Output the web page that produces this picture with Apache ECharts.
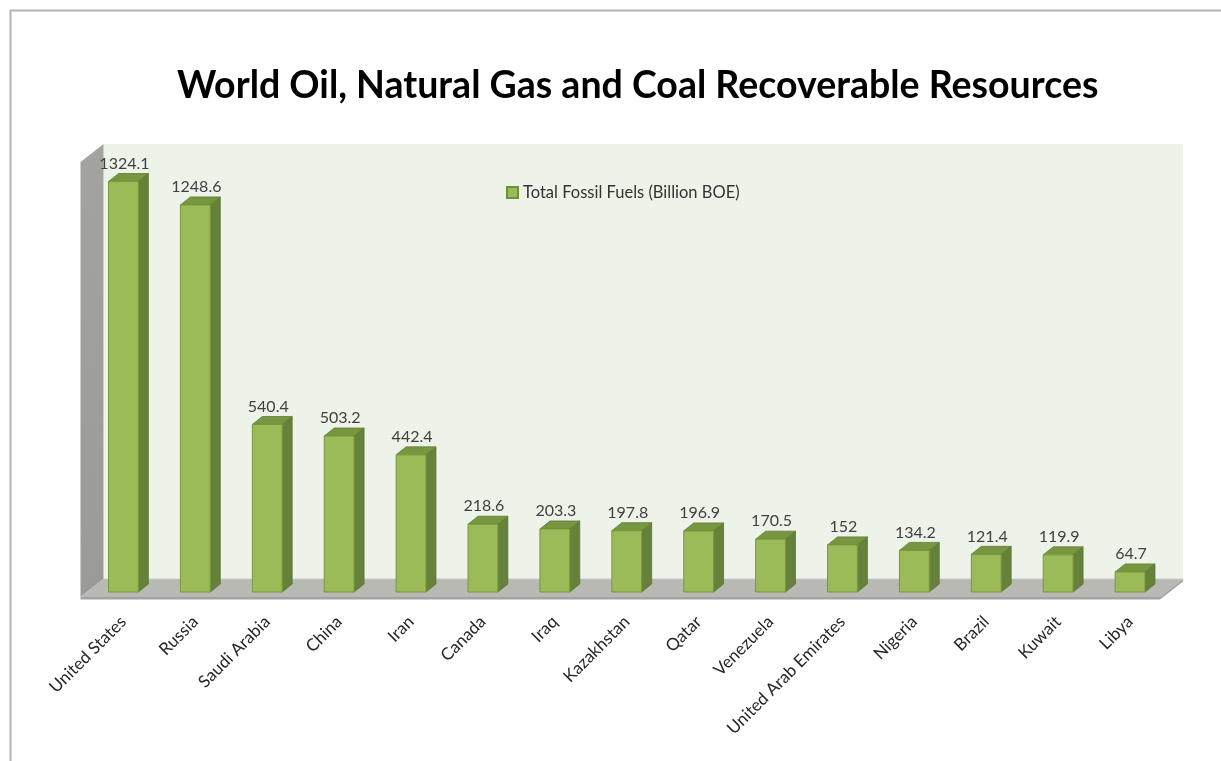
<!DOCTYPE html>
<html><head><meta charset="utf-8">
<script src="https://cdn.jsdelivr.net/npm/echarts@6.0.0/dist/echarts.min.js"></script>
<style>html,body{margin:0;padding:0;background:#fff}#c{width:1221px;height:761px}</style>
</head><body><div id="c"></div>
<script>
const titleText = 'World Oil, Natural Gas and Coal Recoverable Resources';
const seriesName = 'Total Fossil Fuels (Billion BOE)';
const categories = ['United States','Russia','Saudi Arabia','China','Iran','Canada','Iraq','Kazakhstan','Qatar','Venezuela','United Arab Emirates','Nigeria','Brazil','Kuwait','Libya'];
const totalFossilFuels = [1324.1,1248.6,540.4,503.2,442.4,218.6,203.3,197.8,196.9,170.5,152,134.2,121.4,119.9,64.7];

const FONT = 'Lato, "Open Sans", sans-serif';
const chart = echarts.init(document.getElementById('c'), null, {renderer:'canvas'});

function renderWalls(params, api){
  const cs = params.coordSys;
  const y0 = api.coord([0, 0])[1];
  const fl = cs.x - 7, fr = cs.x + cs.width - 6, fy = y0 + 5;
  const dx = 23, dy = 18;
  const bl = fl + dx, br = fr + dx, by = fy - dy, top = cs.y - 14;
  return {type:'group', children:[
    {type:'rect', shape:{x:bl, y:top, width:br-bl, height:by-top}, style:{fill:'#eef3e9', stroke:null}},
    {type:'polygon', shape:{points:[[fl, top+dy],[bl, top],[bl, by],[fl, fy]]},
      style:{fill:new echarts.graphic.LinearGradient(0,0,0,1,[{offset:0,color:'#a3a4a0'},{offset:1,color:'#9a9b97'}])}},
    {type:'polygon', shape:{points:[[fl, fy],[bl, by],[br, by],[fr, fy]]}, style:{fill:'#b8b9b4'}},
    {type:'polyline', shape:{points:[[bl, by],[br, by]]}, style:{stroke:'#c9cac6', lineWidth:1}},
    {type:'polygon', shape:{points:[[fl, fy],[fr, fy],[fr, fy+2.5],[fl, fy+2.5]]}, style:{fill:'#a2a3a0'}},
    {type:'polygon', shape:{points:[[fr, fy],[br, by],[br, by+2.5],[fr, fy+2.5]]}, style:{fill:'#a2a3a0'}}
  ]};
}

function renderBar(params, api){
  const i = api.value(0), v = api.value(1);
  const t = api.coord([i, v]);
  const b = api.coord([i, 0]);
  const bw = api.size([1, 0])[0] * 0.415;
  const x0 = t[0] - bw/2, x1 = t[0] + bw/2;
  const dx = 10, dy = 8;
  const yT = t[1], yB = b[1];
  return {type:'group', children:[
    {type:'polygon', shape:{points:[[x1,yT],[x1+dx,yT-dy],[x1+dx,yB-dy],[x1,yB]]},
      style:{fill:'#66813a', stroke:'#5b7533', lineWidth:0.8}},
    {type:'polygon', shape:{points:[[x0,yT],[x0+dx,yT-dy],[x1+dx,yT-dy],[x1,yT]]},
      style:{fill:'#76973f', stroke:'#5f7b35', lineWidth:0.8}},
    {type:'rect', shape:{x:x0, y:yT, width:bw, height:yB-yT},
      style:{fill:'#9bbb59', stroke:'#78983a', lineWidth:1}},
    {type:'text', x:t[0] + 1, y:yT - dy - 2,
      style:{text:String(v), fill:'#404040', font:'16px ' + FONT, align:'center', verticalAlign:'bottom'}}
  ]};
}

chart.setOption({
  animation:false,
  backgroundColor:'#ffffff',
  title:{text:titleText, left:172, top:62,
    textStyle:{fontFamily:FONT, fontSize:37.5, fontWeight:'bold', color:'#000'}},
  legend:{left:501, top:179, icon:'rect', itemWidth:11, itemHeight:11, itemGap:6,
    data:[seriesName],
    textStyle:{fontFamily:FONT, fontSize:16.5, color:'#333'}},
  grid:{left:87.5, right:55, top:158, bottom:169, containLabel:false},
  xAxis:{type:'category', data:categories, boundaryGap:true,
    axisLine:{show:false}, axisTick:{show:false}, splitLine:{show:false},
    axisLabel:{interval:0, rotate:45, margin:27, fontFamily:FONT, fontSize:17, color:'#262626'}},
  yAxis:{type:'value', min:0, max:1400, interval:200, show:false, splitLine:{show:false}},
  graphic:[{type:'rect', left:8, top:8, shape:{width:1300, height:900}, silent:true, z:-10,
    style:{fill:null, stroke:'#b4b4b4', lineWidth:2}}],
  series:[
    {type:'custom', name:'walls', silent:true, z:1, renderItem:renderWalls, data:[[0,0]], legendHoverLink:false},
    {type:'custom', name:seriesName, z:2, renderItem:renderBar,
      itemStyle:{color:'#9bbb59', borderColor:'#6f8f38', borderWidth:1},
      encode:{x:0, y:1},
      data:totalFossilFuels.map((v,i)=>[i,v])}
  ]
});
</script></body></html>
